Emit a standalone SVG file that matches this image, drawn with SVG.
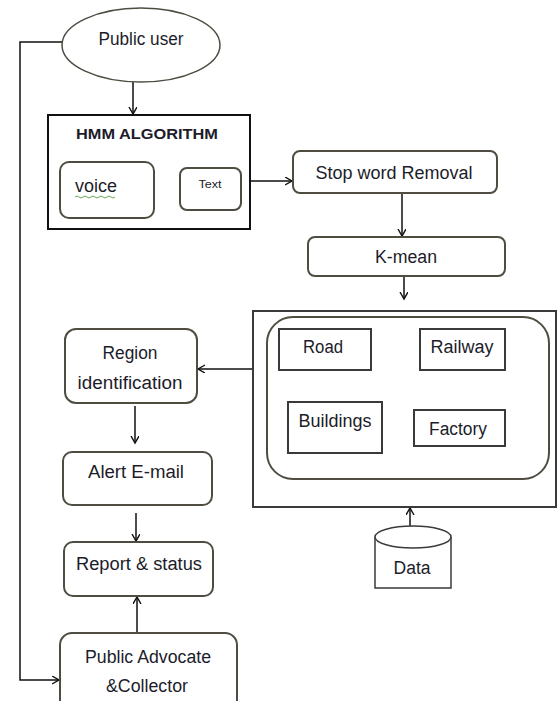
<svg xmlns="http://www.w3.org/2000/svg" width="558" height="701" viewBox="0 0 558 701">
<defs>
<marker id="arr" markerUnits="userSpaceOnUse" markerWidth="10" markerHeight="10" refX="7" refY="4" orient="auto">
<path d="M0,0 L7,4 L0,8" fill="none" stroke="#111" stroke-width="1.4"/>
</marker>
<style>
.t{font-family:"Liberation Sans",Arial,sans-serif;font-size:18px;fill:#1c1c2a;text-anchor:middle}
.rb{fill:#fff;stroke:#4f4d42;stroke-width:2}
.sq{fill:#fff;stroke:#3a3a3a;stroke-width:2}
.c{fill:none;stroke:#111;stroke-width:1.5;marker-end:url(#arr)}
</style>
</defs>
<rect width="558" height="701" fill="#fff"/>
<g id="connectors">
<path class="c" d="M133,82 V114"/>
<path class="c" d="M62,42 H20 V680 H59"/>
<path class="c" d="M154,192 H179"/>
<path class="c" d="M250,181 H292"/>
<path class="c" d="M402,193 V236"/>
<path class="c" d="M404,276 V299"/>
<path class="c" d="M253,369 H198"/>
<path class="c" d="M135,406 V443"/>
<path class="c" d="M136,513 V541"/>
<path class="c" d="M137,633 V597"/>
<path class="c" d="M410,526 V508"/>
</g>
<g id="public-user">
<ellipse cx="141" cy="45" rx="79" ry="37" fill="#fff" stroke="#4f4d42" stroke-width="1.5"/>
<text class="t" x="141" y="45" textLength="85" lengthAdjust="spacingAndGlyphs">Public user</text>
</g>
<g id="hmm">
<rect x="48" y="115" width="202" height="114" fill="#fff" stroke="#111" stroke-width="2"/>
<text class="t" x="147" y="139" style="font-weight:bold;font-size:15px" textLength="142" lengthAdjust="spacingAndGlyphs">HMM ALGORITHM</text>
</g>
<g id="voice">
<rect class="rb" x="60" y="162" width="94" height="56" rx="9"/>
<text class="t" x="96" y="192" style="text-anchor:middle" textLength="42" lengthAdjust="spacingAndGlyphs">voice</text>
<path d="M75,197 q2,-2 4,0 t4,0 t4,0 t4,0 t4,0 t4,0 t4,0 t4,0 t4,0 t4,0" fill="none" stroke="#6aa84f" stroke-width="1"/>
</g>
<g id="text-node">
<rect class="rb" x="180" y="168" width="61" height="42" rx="7"/>
<text class="t" x="210" y="188" style="font-size:11px" textLength="23" lengthAdjust="spacingAndGlyphs">Text</text>
</g>
<g id="stopword">
<rect class="rb" x="293" y="151" width="204" height="42" rx="7"/>
<text class="t" x="394" y="179" textLength="157" lengthAdjust="spacingAndGlyphs">Stop word Removal</text>
</g>
<g id="kmean">
<rect class="rb" x="308" y="237" width="197" height="39" rx="7"/>
<text class="t" x="406" y="263" textLength="62" lengthAdjust="spacingAndGlyphs">K-mean</text>
</g>
<g id="classes">
<rect class="sq" x="253" y="311" width="303" height="196" stroke-width="1.5"/>
<rect class="rb" x="267" y="317" width="282" height="162" rx="26" stroke-width="1.5"/>
</g>
<g id="road">
<rect class="sq" x="279" y="329" width="92" height="41"/>
<text class="t" x="323" y="353" textLength="40" lengthAdjust="spacingAndGlyphs">Road</text>
</g>
<g id="railway">
<rect class="sq" x="420" y="329" width="85" height="41"/>
<text class="t" x="462" y="353" textLength="63" lengthAdjust="spacingAndGlyphs">Railway</text>
</g>
<g id="buildings">
<rect class="sq" x="288" y="402" width="94" height="51"/>
<text class="t" x="335" y="427" textLength="73" lengthAdjust="spacingAndGlyphs">Buildings</text>
</g>
<g id="factory">
<rect class="sq" x="414" y="410" width="91" height="36"/>
<text class="t" x="458" y="435" textLength="58" lengthAdjust="spacingAndGlyphs">Factory</text>
</g>
<g id="data">
<path d="M375,537 V588 H451 V537" fill="#fff" stroke="#3a3a3a" stroke-width="1.5"/>
<ellipse cx="413" cy="537" rx="38" ry="11" fill="#fff" stroke="#3a3a3a" stroke-width="1.5"/>
<text class="t" x="412" y="574" textLength="37" lengthAdjust="spacingAndGlyphs">Data</text>
</g>
<g id="region">
<rect class="rb" x="65" y="329" width="132" height="74" rx="11"/>
<text class="t" x="130" y="359" textLength="55" lengthAdjust="spacingAndGlyphs">Region</text>
<text class="t" x="130" y="389" textLength="105" lengthAdjust="spacingAndGlyphs">identification</text>
</g>
<g id="alert">
<rect class="rb" x="63" y="452" width="149" height="53" rx="9"/>
<text class="t" x="136" y="478" textLength="96" lengthAdjust="spacingAndGlyphs">Alert E-mail</text>
</g>
<g id="report">
<rect class="rb" x="64" y="542" width="149" height="54" rx="9"/>
<text class="t" x="139" y="570" textLength="126" lengthAdjust="spacingAndGlyphs">Report &amp; status</text>
</g>
<g id="advocate">
<rect class="rb" x="60" y="633" width="177" height="80" rx="12"/>
<text class="t" x="148" y="663" textLength="126" lengthAdjust="spacingAndGlyphs">Public Advocate</text>
<text class="t" x="147" y="692" textLength="82" lengthAdjust="spacingAndGlyphs">&amp;Collector</text>
</g>
</svg>
